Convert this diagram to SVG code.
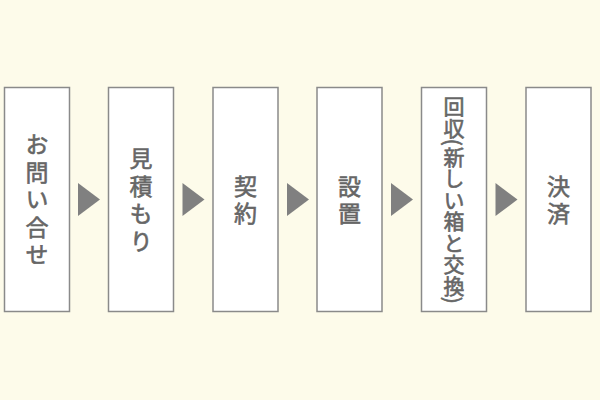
<svg xmlns="http://www.w3.org/2000/svg" width="600" height="400" viewBox="0 0 600 400">
<style>
.box{fill:#ffffff;stroke:#8a8a8a;stroke-width:1.5}
.lbl{font-family:"Noto Sans CJK JP","Noto Sans",sans-serif;font-weight:400;fill:#666666;stroke:#666666;stroke-width:0.6px;writing-mode:vertical-rl;text-anchor:middle;font-size:23px;letter-spacing:4.5px}
.small{font-size:21px;letter-spacing:0.5px}
.arr{fill:#808080}
</style>
<rect width="600" height="400" fill="#fdfbea"/>
<g id="connectors">
<polygon class="arr" points="78,183 100,199.5 78,216"/>
<polygon class="arr" points="182.5,183 204.5,199.5 182.5,216"/>
<polygon class="arr" points="287,183 309,199.5 287,216"/>
<polygon class="arr" points="391,183 413,199.5 391,216"/>
<polygon class="arr" points="495.5,183 517.5,199.5 495.5,216"/>
</g>
<g id="n1"><rect class="box" x="4.5" y="87.5" width="65" height="224"/><text class="lbl" x="37" y="202">お問い合せ</text></g>
<g id="n2"><rect class="box" x="108.5" y="87.5" width="65" height="224"/><text class="lbl" x="141" y="202">見積もり</text></g>
<g id="n3"><rect class="box" x="213" y="87.5" width="65" height="224"/><text class="lbl" x="245.5" y="202">契約</text></g>
<g id="n4"><rect class="box" x="317" y="87.5" width="65" height="224"/><text class="lbl" x="349.5" y="202">設置</text></g>
<g id="n5"><rect class="box" x="421.5" y="87.5" width="65" height="224"/><text class="lbl small" x="454" y="200">回収(新しい箱と交換)</text></g>
<g id="n6"><rect class="box" x="526" y="87.5" width="65" height="224"/><text class="lbl" x="558.5" y="202">決済</text></g>
</svg>
